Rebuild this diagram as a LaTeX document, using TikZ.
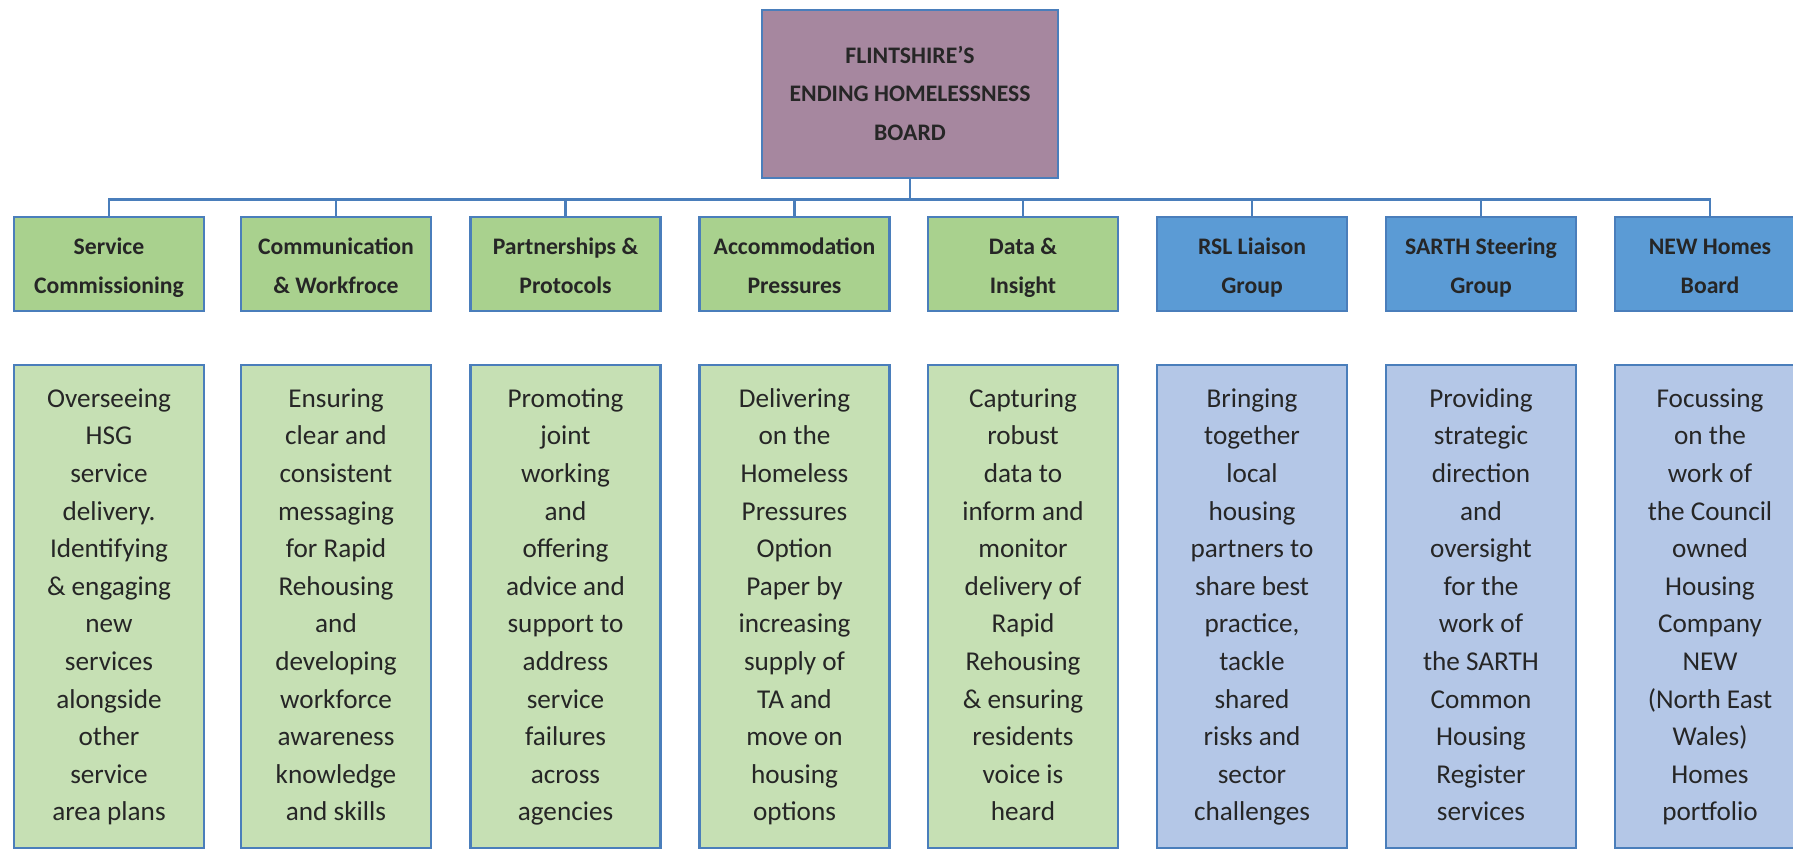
\documentclass[tikz,border=0pt]{standalone}
\usepackage{fontspec}
\setmainfont{Carlito}
\definecolor{bordc}{HTML}{4A7EBB}
\definecolor{topc}{HTML}{A6879F}
\definecolor{ghead}{HTML}{A9D18E}
\definecolor{gdesc}{HTML}{C6E0B4}
\definecolor{bhead}{HTML}{5B9BD5}
\definecolor{bdesc}{HTML}{B4C7E7}
\newcommand\tT{\rule{0pt}{13.6pt}}
\newcommand\tH{\rule{0pt}{15.8pt}}
\newcommand\tD{\rule{0pt}{13.2pt}}
\tikzset{
  box/.style={draw=bordc, line width=1.4pt, rectangle, inner sep=0pt, align=center, text=black!85,
    execute at end node=\strut},
  topbox/.style={box, fill=topc, minimum width=148pt, minimum height=84pt, font=\fontsize{11.85}{19.25}\selectfont\bfseries},
  headbox/.style={box, minimum width=95pt, minimum height=47pt, font=\fontsize{11.85}{19.4}\selectfont\bfseries},
  descbox/.style={box, minimum width=95pt, minimum height=241.5pt, font=\fontsize{13.6}{18.8}\selectfont},
  gh/.style={headbox, fill=ghead},
  bh/.style={headbox, fill=bhead},
  gd/.style={descbox, fill=gdesc},
  bd/.style={descbox, fill=bdesc},
  conn/.style={draw=bordc, line width=1.4pt}
}
\begin{document}
\begin{tikzpicture}[x=0.5pt,y=-0.5pt]
\clip (0,0) rectangle (1793,850);
\fill[white] (0,0) rectangle (1793,850);
\node[topbox] (top) at (910,94) {\tT FLINTSHIRE'S\\ENDING HOMELESSNESS\\BOARD};

\node[gh] (h1) at (109,264) {\tH Service\\Commissioning};
\node[gh] (h2) at (336,264) {\tH Communication\\\& Workfroce};
\node[gh] (h3) at (565.5,264) {\tH Partnerships \&\\Protocols};
\node[gh] (h4) at (794.5,264) {\tH Accommodation\\Pressures};
\node[gh] (h5) at (1023,264) {\tH Data \&\\Insight};
\node[bh] (h6) at (1252,264) {\tH RSL Liaison\\Group};
\node[bh] (h7) at (1481,264) {\tH SARTH Steering\\Group};
\node[bh] (h8) at (1710,264) {\tH NEW Homes\\Board};

\foreach \i in {1,...,8}{
  \draw[conn] (top.south) -- ++(0,20) -| (h\i.north);
}

\node[gd] (d1) at (109,606.5) {\tD Overseeing\\HSG\\service\\delivery.\\Identifying\\\& engaging\\new\\services\\alongside\\other\\service\\area plans};
\node[gd] (d2) at (336,606.5) {\tD Ensuring\\clear and\\consistent\\messaging\\for Rapid\\Rehousing\\and\\developing\\workforce\\awareness\\knowledge\\and skills};
\node[gd] (d3) at (565.5,606.5) {\tD Promoting\\joint\\working\\and\\offering\\advice and\\support to\\address\\service\\failures\\across\\agencies};
\node[gd] (d4) at (794.5,606.5) {\tD Delivering\\on the\\Homeless\\Pressures\\Option\\Paper by\\increasing\\supply of\\TA and\\move on\\housing\\options};
\node[gd] (d5) at (1023,606.5) {\tD Capturing\\robust\\data to\\inform and\\monitor\\delivery of\\Rapid\\Rehousing\\\& ensuring\\residents\\voice is\\heard};
\node[bd] (d6) at (1252,606.5) {\tD Bringing\\together\\local\\housing\\partners to\\share best\\practice,\\tackle\\shared\\risks and\\sector\\challenges};
\node[bd] (d7) at (1481,606.5) {\tD Providing\\strategic\\direction\\and\\oversight\\for the\\work of\\the SARTH\\Common\\Housing\\Register\\services};
\node[bd] (d8) at (1710,606.5) {\tD Focussing\\on the\\work of\\the Council\\owned\\Housing\\Company\\NEW\\(North East\\Wales)\\Homes\\portfolio};
\end{tikzpicture}
\end{document}
